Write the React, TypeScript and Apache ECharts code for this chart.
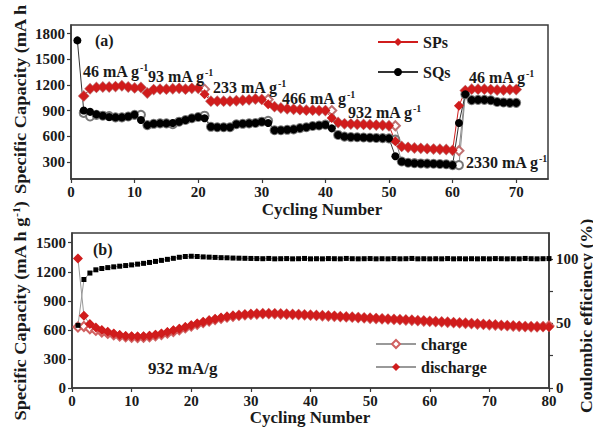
import React, { useEffect, useRef } from 'react';
import * as echarts from 'echarts';

const topCycles = [1,2,3,4,5,6,7,8,9,10,11,12,13,14,15,16,17,18,19,20,21,22,23,24,25,26,27,28,29,30,31,32,33,34,35,36,37,38,39,40,41,42,43,44,45,46,47,48,49,50,51,52,53,54,55,56,57,58,59,60,61,62,63,64,65,66,67,68,69,70];
const spsDischarge = [null,1070,1155,1170,1175,1175,1180,1190,1175,1165,1170,1105,1145,1150,1150,1155,1160,1150,1160,1160,1090,1010,1010,1010,1010,1015,1020,1025,1035,1030,975,945,930,920,915,910,905,905,900,900,812,760,745,742,740,738,735,730,728,722,540,481,470,462,458,455,450,448,445,435,955,1133,1150,1150,1150,1145,1140,1140,1145,1145];
const spsCharge = [null,1070,1155,1170,1175,1175,1180,1190,1175,1165,1170,1105,1145,1150,1150,1155,1160,1150,1160,1160,1150,1010,1010,1010,1010,1015,1020,1025,1035,1030,1030,945,930,920,915,910,905,905,900,900,900,760,745,742,740,738,735,730,728,722,722,481,470,462,458,455,450,448,445,435,431,1133,1150,1150,1150,1145,1140,1140,1145,1145];
const sqsDischarge = [1720,900,885,855,840,825,820,820,830,850,790,730,745,750,750,755,770,790,810,825,810,710,705,705,705,740,745,750,755,770,755,670,670,675,680,695,705,720,725,735,692,615,595,590,588,585,582,580,578,575,365,305,290,285,282,280,278,275,272,262,755,1090,1022,1025,1025,1020,1000,995,990,990];
const sqsCharge = [null,872,830,850,840,835,820,820,830,850,850,730,745,750,750,740,770,790,810,825,840,710,705,705,705,740,745,750,755,770,780,670,670,675,680,695,705,720,725,735,735,615,595,590,588,585,582,580,578,575,560,305,290,285,282,280,278,275,272,262,262,1090,1022,1025,1025,1020,1000,995,990,990];

const bottomCycles = [1,2,3,4,5,6,7,8,9,10,11,12,13,14,15,16,17,18,19,20,21,22,23,24,25,26,27,28,29,30,31,32,33,34,35,36,37,38,39,40,41,42,43,44,45,46,47,48,49,50,51,52,53,54,55,56,57,58,59,60,61,62,63,64,65,66,67,68,69,70,71,72,73,74,75,76,77,78,79,80];
const discharge = [1338,745,660,625,600,580,562,546,537,533,532,533,540,550,562,578,595,612,630,648,665,682,698,712,724,735,745,752,758,763,767,769,769,768,766,764,762,760,757,754,751,748,745,742,739,736,733,729,726,722,719,716,713,710,707,704,701,697,694,690,687,684,681,677,674,670,667,663,659,655,652,648,645,642,639,636,634,632,631,630];
const charge = [630,635,612,594,578,563,549,537,528,523,521,523,529,539,551,566,583,601,620,639,657,675,692,706,719,731,741,749,755,760,764,767,767,766,764,762,760,758,755,752,749,746,743,740,737,734,731,727,724,720,717,714,711,708,705,702,699,695,692,688,685,682,679,675,672,668,665,661,657,653,650,646,643,640,637,634,632,632,634,640];
const coulombic = [48.5,84,89,91.5,92.5,93.2,93.8,94.3,94.8,95.3,95.9,96.5,97.2,98,98.8,99.6,100.4,101.2,101.8,102,101.8,101.5,101.3,101.1,100.9,100.8,100.6,100.5,100.4,100.3,100.2,100.1,100.3,100.0,100.1,100.2,100.0,100.1,100.3,100.0,100.1,100.0,100.2,100.1,100.0,100.3,100.1,100.0,100.1,100.2,100.0,100.1,100.0,100.2,100.0,100.1,100.3,100.0,100.1,100.0,100.1,100.0,100.2,100.0,100.1,100.0,100.1,100.0,100.1,100.0,100.2,100.1,100.0,100.1,100.0,100.3,100.1,100.0,100.1,100.2];

const topXTicks = [0,10,20,30,40,50,60,70];
const topYTicks = [300,600,900,1200,1500,1800];
const bottomYTicks = [0,300,600,900,1200,1500];
const ceLabelTicks = [0,50,100];
const ceTicks = [0,25,50,75,100];

const FONT = "'Liberation Serif', 'Times New Roman', serif";
const RED = '#d01c1c';
const AXIS = '#3a3a3a';
const INK = '#1a1a1a';

function pairs(xs: number[], ys: (number | null)[]) {
  return xs.map((x, i) => [x, ys[i]]);
}

const plain = (v: number) => String(v);
const labelStyle = { fontFamily: FONT, fontWeight: 'bold', fontSize: 15, color: INK, formatter: plain };

function supStyle(size: number) {
  return { fontFamily: FONT, fontWeight: 'bold', fontSize: Math.round(size * 0.62), verticalAlign: 'top', fill: INK, lineHeight: size + 2 };
}

function annot(text: string, x: number, y: number, size = 16) {
  return {
    type: 'text', x, y, z: 100,
    style: {
      text, rich: { sup: supStyle(size) },
      fontFamily: FONT, fontWeight: 'bold', fontSize: size, fill: INK,
      textAlign: 'left', textVerticalAlign: 'middle', lineHeight: size + 2,
    },
  };
}

export default function App() {
  const ref = useRef<HTMLDivElement>(null);
  useEffect(() => {
    document.body.style.margin = '0';
    const chart = echarts.init(ref.current!, undefined, { renderer: 'svg' });
    const axisCommon = {
      axisLine: { show: true, lineStyle: { color: AXIS, width: 1.5 } },
      splitLine: { show: false },
    };
    const tick = (values?: number[]) => ({ show: true, length: 4, ...(values ? { customValues: values } : {}), lineStyle: { color: AXIS, width: 1.2 } });
    const option: any = {
      animation: false,
      backgroundColor: '#fff',
      grid: [
        { left: 71, top: 25, width: 477, height: 154, show: true, borderColor: AXIS, borderWidth: 1.5 },
        { left: 72, top: 233, width: 477, height: 155, show: true, borderColor: AXIS, borderWidth: 1.5 },
      ],
      xAxis: [
        { ...axisCommon, type: 'value', gridIndex: 0, min: 0, max: 75,
          axisTick: tick(topXTicks), axisLabel: { ...labelStyle, margin: 5, customValues: topXTicks } },
        { ...axisCommon, type: 'value', gridIndex: 1, min: 0, max: 80, interval: 10,
          axisTick: tick(), axisLabel: { ...labelStyle, margin: 5 } },
      ],
      yAxis: [
        { ...axisCommon, type: 'value', gridIndex: 0, min: 100, max: 1900,
          axisTick: tick(topYTicks), axisLabel: { ...labelStyle, margin: 6, customValues: topYTicks } },
        { ...axisCommon, type: 'value', gridIndex: 1, min: 0, max: 1600,
          axisTick: tick(bottomYTicks), axisLabel: { ...labelStyle, margin: 6, customValues: bottomYTicks } },
        { ...axisCommon, type: 'value', gridIndex: 1, position: 'right', min: 0, max: 120,
          axisTick: tick(ceTicks), axisLabel: { ...labelStyle, margin: 7, customValues: ceLabelTicks } },
      ],
      legend: [
        { left: 372, top: 29, orient: 'vertical', itemGap: 14, itemWidth: 40, itemHeight: 10,
          data: ['SPs', 'SQs'], textStyle: { fontFamily: FONT, fontWeight: 'bold', fontSize: 16, color: INK } },
        { left: 370, top: 331, orient: 'vertical', itemGap: 7, itemWidth: 40, itemHeight: 10,
          data: ['charge', 'discharge'], textStyle: { fontFamily: FONT, fontWeight: 'bold', fontSize: 16, color: INK } },
      ],
      series: [
        { name: 'SPs charge', type: 'line', xAxisIndex: 0, yAxisIndex: 0, data: pairs(topCycles, spsCharge),
          symbol: 'emptyDiamond', symbolSize: 9, itemStyle: { color: '#c07070' }, lineStyle: { color: '#888', width: 1 } },
        { name: 'SQs charge', type: 'line', xAxisIndex: 0, yAxisIndex: 0, data: pairs(topCycles, sqsCharge),
          symbol: 'emptyCircle', symbolSize: 8, itemStyle: { color: '#777' }, lineStyle: { color: '#888', width: 1 } },
        { name: 'SPs', type: 'line', xAxisIndex: 0, yAxisIndex: 0, data: pairs(topCycles, spsDischarge),
          symbol: 'diamond', symbolSize: 10, itemStyle: { color: RED }, lineStyle: { color: RED, width: 1 } },
        { name: 'SQs', type: 'line', xAxisIndex: 0, yAxisIndex: 0, data: pairs(topCycles, sqsDischarge),
          symbol: 'circle', symbolSize: 8, itemStyle: { color: '#000' }, lineStyle: { color: '#333', width: 1 } },
        { name: 'charge', type: 'line', xAxisIndex: 1, yAxisIndex: 1, data: pairs(bottomCycles, charge),
          symbol: 'emptyDiamond', symbolSize: 9, itemStyle: { color: '#d06060' }, lineStyle: { color: '#999', width: 1 } },
        { name: 'discharge', type: 'line', xAxisIndex: 1, yAxisIndex: 1, data: pairs(bottomCycles, discharge),
          symbol: 'diamond', symbolSize: 10, itemStyle: { color: RED }, lineStyle: { color: '#999', width: 1 } },
        { name: 'CE', type: 'line', xAxisIndex: 1, yAxisIndex: 2, data: pairs(bottomCycles, coulombic),
          symbol: 'rect', symbolSize: 5, itemStyle: { color: '#000' }, lineStyle: { color: '#999', width: 1 }, z: 3 },
      ],
      graphic: [
        annot('(a)', 95, 40),
        annot('46 mA g{sup|-1}', 83, 71),
        annot('93 mA g{sup|-1}', 148, 76),
        annot('233 mA g{sup|-1}', 213, 87),
        annot('466 mA g{sup|-1}', 282, 98),
        annot('932 mA g{sup|-1}', 348, 112),
        annot('2330 mA g{sup|-1}', 466, 162),
        annot('46 mA g{sup|-1}', 469, 77),
        annot('(b)', 93, 249),
        annot('932 mA/g', 148, 368, 17),
        { type: 'text', x: 322, y: 209, style: { text: 'Cycling Number', fontFamily: FONT, fontWeight: 'bold', fontSize: 17, fill: INK, textAlign: 'center', textVerticalAlign: 'middle' } },
        { type: 'text', x: 310, y: 417, style: { text: 'Cycling Number', fontFamily: FONT, fontWeight: 'bold', fontSize: 17, fill: INK, textAlign: 'center', textVerticalAlign: 'middle' } },
        { type: 'text', x: 20, y: 194, rotation: Math.PI / 2, scaleX: 1.08, style: { text: 'Specific Capacity (mA h g{sup|-1})', rich: { sup: supStyle(17) }, fontFamily: FONT, fontWeight: 'bold', fontSize: 17, fill: INK, textAlign: 'left', textVerticalAlign: 'middle', lineHeight: 19 } },
        { type: 'text', x: 20, y: 311, rotation: Math.PI / 2, scaleX: 1.08, style: { text: 'Specific Capacity (mA h g{sup|-1})', rich: { sup: supStyle(17) }, fontFamily: FONT, fontWeight: 'bold', fontSize: 17, fill: INK, textAlign: 'center', textVerticalAlign: 'middle', lineHeight: 19 } },
        { type: 'text', x: 586, y: 316, rotation: Math.PI / 2, scaleX: 1.05, style: { text: 'Coulombic efficiency (%)', fontFamily: FONT, fontWeight: 'bold', fontSize: 17, fill: INK, textAlign: 'center', textVerticalAlign: 'middle' } },
      ],
    };
    chart.setOption(option);
    return () => chart.dispose();
  }, []);
  return <div ref={ref} style={{ width: 593, height: 427 }} />;
}
